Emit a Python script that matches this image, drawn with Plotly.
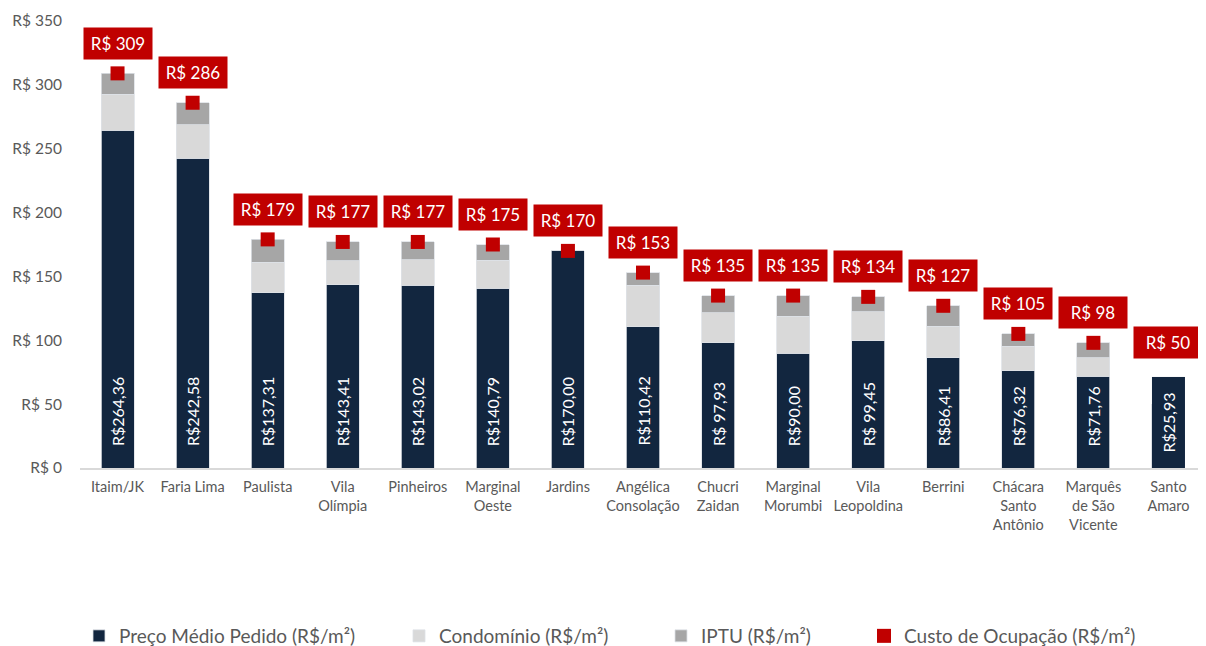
import plotly.graph_objects as go

# --- dados ---
regioes = ["Itaim/JK", "Faria Lima", "Paulista", "Vila<br>Olímpia", "Pinheiros",
           "Marginal<br>Oeste", "Jardins", "Angélica<br>Consolação", "Chucri<br>Zaidan",
           "Marginal<br>Morumbi", "Vila<br>Leopoldina", "Berrini",
           "Chácara<br>Santo<br>Antônio", "Marquês<br>de São<br>Vicente", "Santo<br>Amaro"]
preco = [264.36, 242.58, 137.31, 143.41, 143.02, 140.79, 170.00, 110.42, 97.93,
         90.00, 99.45, 86.41, 76.32, 71.76, 25.93]
condominio = [28.4, 26.2, 23.7, 19.0, 20.0, 21.7, 0, 32.6, 23.5, 29.0, 23.0, 24.6, 19.2, 14.7, 11.6]
iptu = [16.2, 17.2, 18.0, 14.6, 14.0, 12.5, 0, 10.0, 13.6, 16.0, 11.5, 16.0, 9.5, 11.5, 12.5]
custo = [309, 286, 179, 177, 177, 175, 170, 153, 135, 135, 134, 127, 105, 98, 50]
rotulo_preco = ["R$264,36", "R$242,58", "R$137,31", "R$143,41", "R$143,02", "R$140,79",
                "R$170,00", "R$110,42", "R$ 97,93", "R$90,00", "R$ 99,45", "R$86,41",
                "R$76,32", "R$71,76", "R$25,93"]
rotulo_custo = ["R$ 309", "R$ 286", "R$ 179", "R$ 177", "R$ 177", "R$ 175", "R$ 170",
                "R$ 153", "R$ 135", "R$ 135", "R$ 134", "R$ 127", "R$ 105", "R$ 98", "R$ 50"]

NAVY = "#12263f"
CLARO = "#d9d9d9"
CINZA = "#a6a6a6"
VERMELHO = "#c00000"
FONTE = "Lato"
x = list(range(len(regioes)))

fig = go.Figure()
borda = dict(color="#dde1e6", width=0.8)
fig.add_trace(go.Bar(x=x, y=preco, name="Preço Médio Pedido (R$/m²)",
                     marker=dict(color=NAVY, line=borda), legend="legend"))
fig.add_trace(go.Bar(x=x, y=condominio, name="Condomínio (R$/m²)",
                     marker=dict(color=CLARO, line=borda), legend="legend2"))
fig.add_trace(go.Bar(x=x, y=iptu, name="IPTU (R$/m²)",
                     marker=dict(color=CINZA, line=borda), legend="legend3"))
fig.add_trace(go.Scatter(x=x, y=custo, mode="markers", name="Custo de Ocupação (R$/m²)",
                         marker=dict(symbol="square", size=14, color=VERMELHO),
                         legend="legend4"))

# rótulos
for i in x:
    ultimo = i == len(x) - 1
    fig.add_annotation(
        x=i, y=0, text=rotulo_preco[i], textangle=-90, showarrow=False,
        yanchor="bottom", yshift=0 if ultimo else 20,
        font=dict(family=FONTE, size=16, color="white"),
        bgcolor=NAVY if ultimo else None,
        width=82 if ultimo else None, height=24 if ultimo else None,
        borderpad=4 if ultimo else 1,
    )
    fig.add_annotation(
        x=i, y=custo[i], text=rotulo_custo[i], showarrow=False,
        yanchor="middle", yshift=62 if ultimo else 30,
        font=dict(family=FONTE, size=17, color="white"),
        bgcolor=VERMELHO, borderpad=5, width=58,
    )

# a página tem 8px de margem no body
W, H = 1198, 638
leg = dict(orientation="h", yref="container", yanchor="middle", y=1 - 628 / H,
           xanchor="left", font=dict(family=FONTE, size=19, color="#595959"),
           bgcolor="rgba(0,0,0,0)", itemwidth=30)
fig.update_layout(
    barmode="stack", bargap=0.56,
    width=W, height=H,
    margin=dict(l=72, r=0, t=13, b=178),
    paper_bgcolor="white", plot_bgcolor="white",
    font=dict(family=FONTE, color="#595959"),
    showlegend=True,
    legend=dict(leg, x=(71 - 72) / 1126),
    legend2=dict(leg, x=(391 - 72) / 1126),
    legend3=dict(leg, x=(653 - 72) / 1126),
    legend4=dict(leg, x=(856 - 72) / 1126),
)
fig.update_xaxes(tickvals=x, ticktext=regioes, range=[-0.5, len(x) - 0.5],
                 showline=True, linecolor="#d9d9d9", linewidth=1.5,
                 tickfont=dict(family=FONTE, size=14.5, color="#595959"),
                 ticks="", showgrid=False, ticklabelstandoff=5)
fig.update_yaxes(range=[0, 350], dtick=50, tickprefix="R$ ", showgrid=False,
                 zeroline=False, ticks="", ticklabelstandoff=17,
                 tickfont=dict(family=FONTE, size=15.5, color="#595959"))

fig.write_html("out.html")
